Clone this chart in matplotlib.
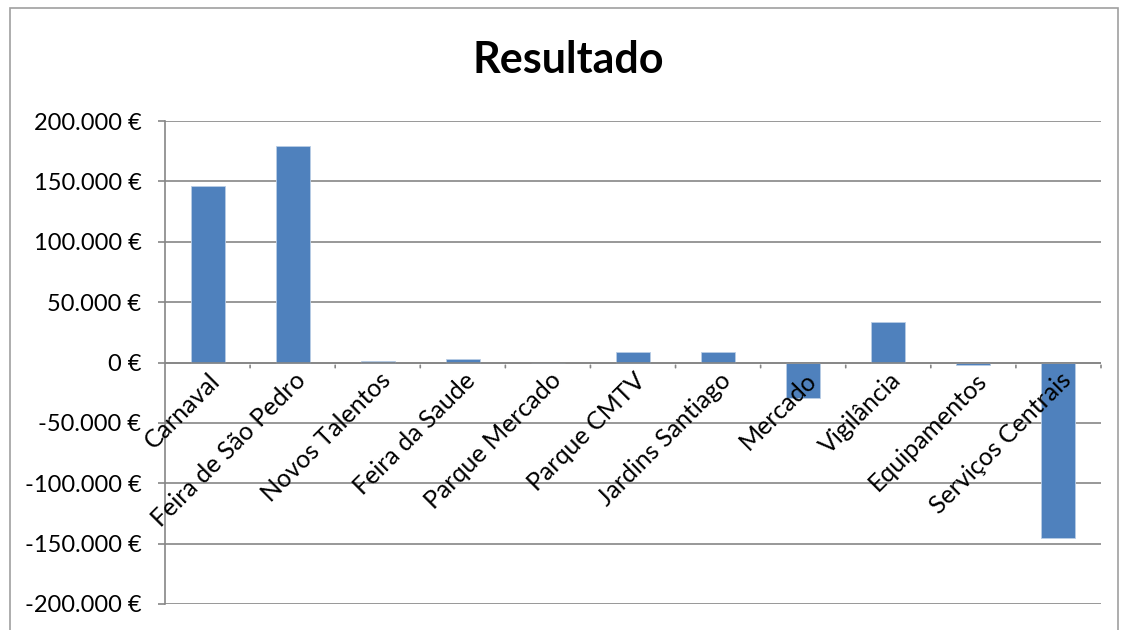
import matplotlib.pyplot as plt
import matplotlib.transforms as mtransforms
from matplotlib.patches import Rectangle
from matplotlib.ticker import FuncFormatter, MultipleLocator

# Dados
categorias = ['Carnaval', 'Feira de São Pedro', 'Novos Talentos', 'Feira da Saude',
              'Parque Mercado', 'Parque CMTV', 'Jardins Santiago', 'Mercado',
              'Vigilância', 'Equipamentos', 'Serviços Centrais']
resultado = [146000, 179000, 1500, 2500, 0, 8300, 9100, -29000, 33700, -2000, -145000]

cor_barra = '#4F81BD'
cor_grelha = '#868686'

plt.rcParams['font.family'] = ['Lato', 'DejaVu Sans']

fig = plt.figure(figsize=(11.23, 6.3), dpi=100)
ax = fig.add_axes([165 / 1123, 1 - 604 / 630, (1101 - 165) / 1123, (604 - 121) / 630])

x = list(range(len(categorias)))
ax.bar(x, resultado, width=0.4, color=cor_barra, edgecolor='#B9CDE5', linewidth=0.6, zorder=3)

ax.set_xlim(-0.5, len(categorias) - 0.5)
ax.set_ylim(-200000, 200000)
ax.yaxis.set_major_locator(MultipleLocator(50000))


def euro(v, pos):
    return '{:,.0f} €'.format(v).replace(',', '.')


ax.yaxis.set_major_formatter(FuncFormatter(euro))
ax.grid(axis='y', color=cor_grelha, linewidth=1.2, zorder=0)
ax.tick_params(axis='y', labelsize=17, length=5, color=cor_grelha, width=1.2, pad=12)
ax.set_xticks([])

for s in ['top', 'right', 'bottom']:
    ax.spines[s].set_visible(False)
ax.spines['left'].set_color(cor_grelha)
ax.spines['left'].set_linewidth(1.2)

# Eixo horizontal no zero com marcas entre categorias
ax.axhline(0, color=cor_grelha, linewidth=1.2, zorder=4)
for i in range(1, len(categorias) + 1):
    ax.annotate('', xy=(i - 0.5, 0), xytext=(0, -8), textcoords='offset pixels',
                arrowprops=dict(arrowstyle='-', color=cor_grelha, lw=1.2))

# Rótulos das categorias
trans_rot = mtransforms.offset_copy(ax.transData, fig=fig, x=1, y=-6, units='dots')
for i, nome in enumerate(categorias):
    ax.text(i, 0, nome, transform=trans_rot, rotation=45, rotation_mode='anchor',
            ha='right', va='top', fontsize=18, zorder=5)

fig.text(568 / 1123, 1 - 60 / 630, 'Resultado', ha='center', va='center',
         fontsize=31, fontweight='bold')

# Moldura do gráfico
fig.patches.append(Rectangle((10 / 1123, -0.05), (1118 - 10) / 1123, 1 - 8 / 630 + 0.05,
                             transform=fig.transFigure, fill=False,
                             edgecolor='#A0A0A0', linewidth=1.2))

fig.savefig('out.png', dpi=100)
